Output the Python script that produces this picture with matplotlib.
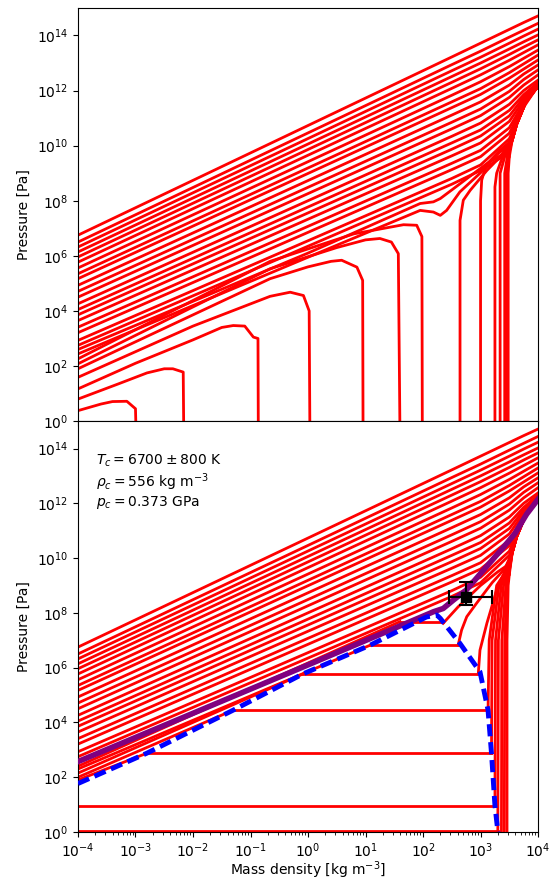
import numpy as np
import matplotlib
matplotlib.use("Agg")
import matplotlib.pyplot as plt
from matplotlib.ticker import NullLocator, LogLocator, NullFormatter

# all curve points are (log10 density [kg m^-3], log10 pressure [Pa])
# a value of -3 in pressure means the isotherm has dropped below zero

# isotherms above the critical temperature (both panels), sampled at hot_rho
hot_rho = [-4.0, 2.5, 3.0, 3.5, 3.75, 4.0]
hot_curves = [
    [6.75, 13.22, 13.72, 14.22, 14.47, 14.71],
    [6.50, 12.94, 13.43, 13.94, 14.19, 14.44],
    [6.32, 12.72, 13.21, 13.72, 13.98, 14.23],
    [6.14, 12.51, 13.00, 13.51, 13.77, 14.02],
    [5.96, 12.30, 12.79, 13.31, 13.58, 13.84],
    [5.77, 12.08, 12.57, 13.10, 13.38, 13.66],
    [5.56, 11.83, 12.32, 12.87, 13.17, 13.47],
    [5.35, 11.59, 12.07, 12.65, 12.97, 13.29],
    [5.17, 11.38, 11.86, 12.45, 12.78, 13.11],
    [4.93, 11.11, 11.59, 12.20, 12.60, 12.93],
    [4.71, 10.85, 11.33, 11.97, 12.40, 12.75],
    [4.50, 10.61, 11.09, 11.75, 12.20, 12.57],
    [4.26, 10.34, 10.82, 11.50, 12.00, 12.38],
    [4.05, 10.10, 10.57, 11.28, 11.85, 12.30],
    [3.86, 9.87, 10.35, 11.08, 11.75, 12.26],
    [3.65, 9.63, 10.10, 10.88, 11.65, 12.24],
    [3.41, 9.36, 9.83, 10.65, 11.55, 12.22],
    [3.21, 9.13, 9.60, 10.45, 11.50, 12.20],
    [2.93, 8.81, 9.30, 10.25, 11.45, 12.18],
    [2.75, 8.60, 9.10, 10.10, 11.40, 12.17],
]

# compressed (condensed) branch all cold isotherms run into
stiff_rho = [3.48, 3.55, 3.63, 3.80, 4.00]
stiff_p = [9.40, 10.20, 10.80, 11.65, 12.15]

# raw isotherms below the critical point (upper panel), gas side with loop
loop_curves = [
    ([-4.0, -3.6, -3.4, -3.15, -3.0, -2.96], [0.38, 0.62, 0.71, 0.72, 0.45, -3]),
    ([-4.0, -3.3, -2.8, -2.5, -2.35, -2.17, -2.15], [0.80, 1.35, 1.75, 1.90, 1.90, 1.78, -3]),
    ([-4.0, -3.0, -2.0, -1.5, -1.3, -1.1, -0.95, -0.87, -0.86],
     [1.17, 2.10, 2.95, 3.40, 3.47, 3.45, 3.05, 3.00, -3]),
    ([-4.0, -2.0, -0.66, -0.31, -0.08, 0.02, 0.04], [1.59, 3.45, 4.53, 4.68, 4.56, 4.00, -3]),
    ([-4.0, -0.66, 0.0, 0.4, 0.585, 0.85, 0.95, 0.96], [1.90, 5.17, 5.60, 5.80, 5.84, 5.59, 5.11, -3]),
    ([-4.0, -0.66, 0.5, 1.0, 1.25, 1.45, 1.57, 1.61], [2.08, 5.53, 6.30, 6.58, 6.63, 6.50, 6.08, -3]),
    ([-4.0, -0.66, 0.8, 1.66, 1.89, 1.98, 1.99], [2.26, 5.80, 6.80, 7.13, 7.11, 6.70, -3]),
]
# liquid side of the same isotherms, rising from negative pressure
liquid_curves = [
    ([3.48, 3.48, 3.50], [-3, 9.0, 9.6]),
    ([3.45, 3.45, 3.49], [-3, 9.0, 9.7]),
    ([3.42, 3.42, 3.48], [-3, 9.0, 9.8]),
    ([3.34, 3.34, 3.42, 3.50], [-3, 9.0, 9.6, 10.0]),
    ([3.25, 3.25, 3.28, 3.40, 3.52], [-3, 8.5, 9.0, 9.7, 10.1]),
    ([3.0, 3.0, 3.02, 3.10, 3.34, 3.52], [-3, 8.0, 8.75, 9.3, 9.84, 10.15]),
    ([2.643, 2.643, 2.70, 2.82, 3.11, 3.34, 3.45, 3.55], [-3, 7.29, 8.02, 8.38, 9.10, 9.59, 9.96, 10.3]),
]
# isotherms just below the critical temperature, loop stays positive
wiggle_curves = [
    ([-4.0, 0.0, 1.95, 2.18, 2.30, 2.53, 3.11, 3.45, 3.55], [2.60, 6.10, 7.90, 7.96, 8.08, 8.44, 9.35, 9.77, 10.25]),
    ([-4.0, 0.0, 1.95, 2.18, 2.30, 2.41, 2.64, 3.11, 3.45, 3.55], [2.44, 5.95, 7.65, 7.59, 7.47, 7.65, 8.32, 9.23, 9.70, 10.2]),
]

# Maxwell-constructed isotherms (lower panel)
sat_p = [0.03, 0.96, 2.87, 4.45, 5.77, 6.82, 7.68]
gas_start = [None, None, 1.90, 2.00, 2.15, 2.30, 2.40]
gas_end_rho = [-4.0, -4.0, -2.81, -1.30, -0.09, 1.08, 1.60]
liq_end_rho = [3.30, 3.25, 3.19, 3.13, 2.96, 2.61, 2.35]
liq_branches = [
    ([3.30, 3.31, 3.40, 3.48], [0.03, 7.0, 9.0, 9.4]),
    ([3.25, 3.26, 3.36, 3.47], [0.96, 7.0, 9.0, 9.45]),
    ([3.19, 3.20, 3.32, 3.46], [2.87, 7.0, 9.0, 9.5]),
    ([3.13, 3.15, 3.28, 3.45], [4.45, 7.0, 9.0, 9.55]),
    ([2.96, 2.99, 3.11, 3.28, 3.44], [5.77, 6.64, 7.62, 8.83, 9.6]),
    ([2.61, 2.67, 2.76, 2.93, 3.20, 3.44], [6.82, 7.37, 7.86, 8.35, 9.10, 9.65]),
    ([2.35, 2.61, 3.00, 3.30, 3.44], [7.62, 8.22, 9.00, 9.50, 9.70]),
]
# coldest isotherms, saturation pressure below the plotted range
cold_liquid = [
    ([3.36, 3.37, 3.44, 3.49], [-3, 7.0, 9.0, 9.4]),
    ([3.41, 3.42, 3.46, 3.49], [-3, 7.0, 9.0, 9.4]),
    ([3.46, 3.46, 3.48, 3.50], [-3, 7.0, 9.0, 9.4]),
]

# critical isotherm
crit_rho = [-4.0, 0.0, 2.18, 2.35, 2.53, 2.75, 3.10, 3.40, 3.60, 3.80, 4.00]
crit_p = [2.57, 6.10, 8.04, 8.16, 8.47, 8.83, 9.68, 10.40, 10.90, 11.60, 12.15]

# coexistence curve
binodal_rho = [-4.0, -2.81, -1.30, -0.09, 1.08, 2.06, 2.24, 2.30, 2.64, 2.99, 3.13, 3.19, 3.25, 3.30, 3.34]
binodal_p = [1.77, 2.87, 4.45, 5.77, 6.82, 7.85, 7.92, 7.80, 6.89, 5.85, 4.45, 2.87, 0.96, 0.03, -0.5]

# measured critical point
rho_c, p_c = 556.0, 0.373e9
rho_c_err = [[271.0], [1024.0]]
p_c_err = [[1.8e8], [9.3e8]]

crit_labels = [r"$T_c = 6700 \pm 800$ K",
               r"$\rho_c = 556$ kg m$^{-3}$",
               r"$p_c = 0.373$ GPa"]

RED = "red"
LW = 2.0


def draw(ax, xs, ys, **kw):
    ax.plot(10.0 ** np.asarray(xs), 10.0 ** np.asarray(ys), **kw)


def draw_hot(ax):
    for ys in hot_curves:
        draw(ax, hot_rho, ys, color=RED, lw=LW)


def draw_into_stiff(ax, xs, ys):
    # a branch followed by the shared compressed branch up to the corner
    draw(ax, xs, ys, color=RED, lw=LW)
    draw(ax, [xs[-1]] + stiff_rho[1:], [ys[-1]] + stiff_p[1:], color=RED, lw=LW)


fig = plt.figure(figsize=(5.53, 8.81), dpi=100)
ax1 = fig.add_axes([0.141, 0.522, 0.832, 0.469])
ax2 = fig.add_axes([0.141, 0.0556, 0.832, 0.4664])

# upper panel: raw isotherms
draw_hot(ax1)
for xs, ys in loop_curves:
    draw(ax1, xs, ys, color=RED, lw=LW)
for xs, ys in liquid_curves + wiggle_curves:
    draw_into_stiff(ax1, xs, ys)

# lower panel: Maxwell construction
draw_hot(ax2)
for i in range(len(sat_p)):
    if gas_start[i] is not None:
        draw(ax2, [-4.0, gas_end_rho[i]], [gas_start[i], sat_p[i]], color=RED, lw=LW)
    draw(ax2, [gas_end_rho[i], liq_end_rho[i]], [sat_p[i], sat_p[i]], color=RED, lw=LW)
    draw_into_stiff(ax2, *liq_branches[i])
for xs, ys in cold_liquid:
    draw_into_stiff(ax2, xs, ys)
draw(ax2, crit_rho, crit_p, color="purple", lw=4, zorder=3)
draw(ax2, binodal_rho, binodal_p, color="blue", lw=3.5, dashes=(2.5, 1.2), zorder=4)
ax2.errorbar(rho_c, p_c, xerr=rho_c_err, yerr=p_c_err, fmt="s", color="k",
             ms=7, capsize=5, elinewidth=1.5, capthick=1.5, zorder=5)

for ypos, label in zip([0.903, 0.852, 0.803], crit_labels):
    ax2.text(0.04, ypos, label, transform=ax2.transAxes, va="center", ha="left", fontsize=10)

for ax in (ax1, ax2):
    ax.set_xscale("log")
    ax.set_yscale("log")
    ax.set_xlim(1e-4, 1e4)
    ax.set_ylim(1e0, 1e15)
    ax.set_yticks([10.0 ** k for k in range(0, 15, 2)])
    ax.yaxis.set_minor_locator(NullLocator())
    ax.set_ylabel("Pressure [Pa]")
    ax.set_xticks([10.0 ** k for k in range(-4, 5)])

ax1.xaxis.set_minor_locator(NullLocator())
ax1.xaxis.set_major_formatter(NullFormatter())
ax2.xaxis.set_minor_locator(LogLocator(base=10, subs=np.arange(2, 10), numticks=20))
ax2.xaxis.set_minor_formatter(NullFormatter())
ax2.set_xlabel("Mass density [kg m$^{-3}$]", labelpad=-1)

fig.savefig("out.png", dpi=100)
